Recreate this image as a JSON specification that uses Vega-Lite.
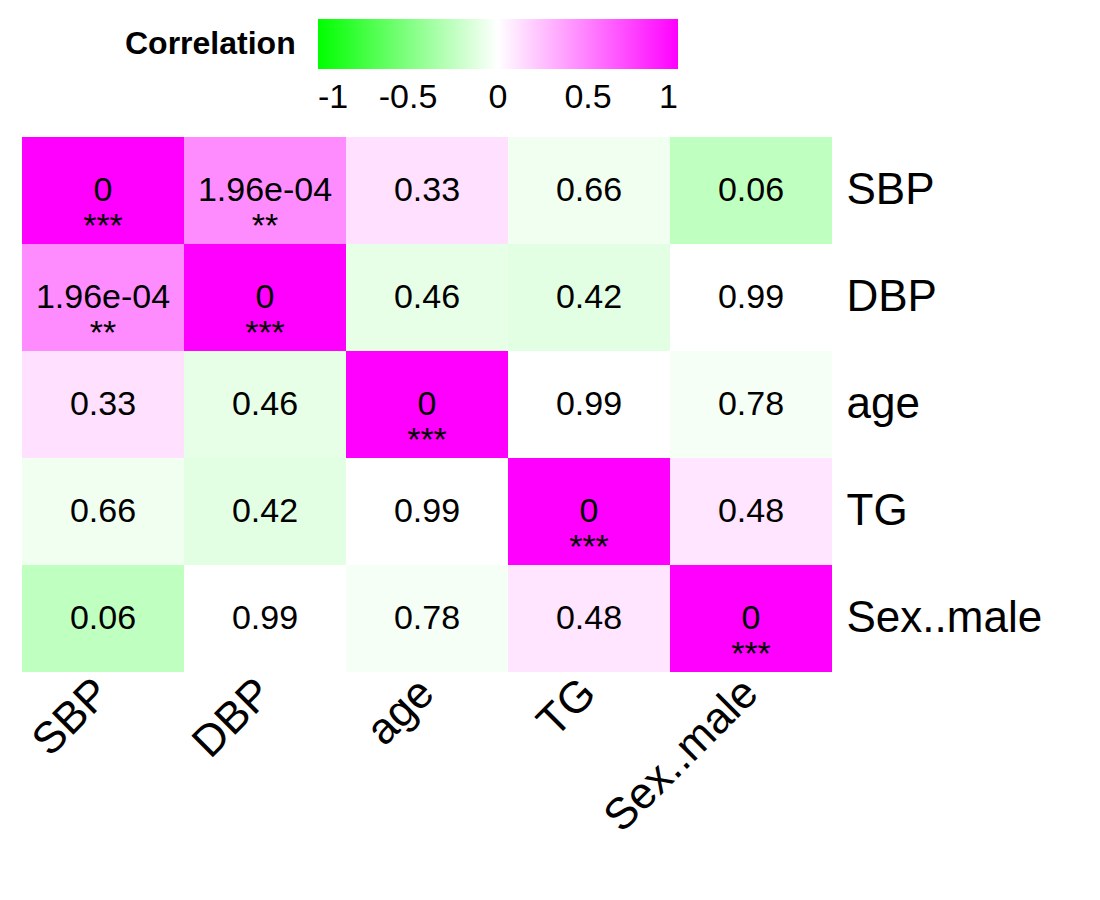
{
  "$schema": "https://vega.github.io/schema/vega-lite/v6.json",
  "width": 810,
  "height": 535,
  "autosize": "none",
  "padding": {"left": 22, "top": 137, "right": 268, "bottom": 228},
  "background": "white",
  "config": {"view": {"stroke": null}, "font": "Liberation Sans"},
  "data": {"values": [
    {"row": "SBP", "col": "SBP", "r": 1, "label": "0\n***"},
    {"row": "SBP", "col": "DBP", "r": 0.45, "label": "1.96e-04\n**"},
    {"row": "SBP", "col": "age", "r": 0.12, "label": "0.33"},
    {"row": "SBP", "col": "TG", "r": -0.06, "label": "0.66"},
    {"row": "SBP", "col": "Sex..male", "r": -0.25, "label": "0.06"},
    {"row": "DBP", "col": "SBP", "r": 0.45, "label": "1.96e-04\n**"},
    {"row": "DBP", "col": "DBP", "r": 1, "label": "0\n***"},
    {"row": "DBP", "col": "age", "r": -0.1, "label": "0.46"},
    {"row": "DBP", "col": "TG", "r": -0.11, "label": "0.42"},
    {"row": "DBP", "col": "Sex..male", "r": 0.0, "label": "0.99"},
    {"row": "age", "col": "SBP", "r": 0.12, "label": "0.33"},
    {"row": "age", "col": "DBP", "r": -0.1, "label": "0.46"},
    {"row": "age", "col": "age", "r": 1, "label": "0\n***"},
    {"row": "age", "col": "TG", "r": 0.0, "label": "0.99"},
    {"row": "age", "col": "Sex..male", "r": -0.04, "label": "0.78"},
    {"row": "TG", "col": "SBP", "r": -0.06, "label": "0.66"},
    {"row": "TG", "col": "DBP", "r": -0.11, "label": "0.42"},
    {"row": "TG", "col": "age", "r": 0.0, "label": "0.99"},
    {"row": "TG", "col": "TG", "r": 1, "label": "0\n***"},
    {"row": "TG", "col": "Sex..male", "r": 0.1, "label": "0.48"},
    {"row": "Sex..male", "col": "SBP", "r": -0.25, "label": "0.06"},
    {"row": "Sex..male", "col": "DBP", "r": 0.0, "label": "0.99"},
    {"row": "Sex..male", "col": "age", "r": -0.04, "label": "0.78"},
    {"row": "Sex..male", "col": "TG", "r": 0.1, "label": "0.48"},
    {"row": "Sex..male", "col": "Sex..male", "r": 1, "label": "0\n***"}
  ]},
  "encoding": {
    "x": {"field": "col", "type": "nominal", "sort": ["SBP", "DBP", "age", "TG", "Sex..male"],
      "scale": {"paddingInner": 0, "paddingOuter": 0},
      "axis": {"title": null, "orient": "bottom", "domain": false, "ticks": false, "labelAngle": -45, "labelAlign": "right", "labelBaseline": "middle", "labelFontSize": 44, "labelColor": "black", "labelPadding": 14, "labelLimit": 400}},
    "y": {"field": "row", "type": "nominal", "sort": ["SBP", "DBP", "age", "TG", "Sex..male"],
      "scale": {"paddingInner": 0, "paddingOuter": 0},
      "axis": {"title": null, "orient": "right", "domain": false, "ticks": false, "labelFontSize": 44, "labelColor": "black", "labelPadding": 14, "labelLimit": 400}}
  },
  "layer": [
    {"mark": {"type": "rect"},
     "encoding": {"color": {"field": "r", "type": "quantitative",
       "scale": {"type": "linear", "domain": [-1, 0, 1], "range": ["#00FF00", "#FFFFFF", "#FF00FF"], "interpolate": "rgb", "zero": false, "nice": false},
       "legend": {"title": "Correlation", "orient": "none", "direction": "horizontal", "legendX": 103, "legendY": -118,
         "titleOrient": "left", "titleFontSize": 32, "titleFontWeight": "bold", "titleColor": "black", "titlePadding": 22,
         "gradientLength": 360, "gradientThickness": 50, "labelFontSize": 34, "labelColor": "black",
         "values": [-1, -0.5, 0, 0.5, 1], "labelExpr": "replace(format(datum.value, '~g'), '−', '-')", "labelOffset": 12}}}},
    {"mark": {"type": "text", "fontSize": 34, "color": "black", "lineBreak": "\n", "lineHeight": 36},
     "encoding": {"text": {"field": "label"}}}
  ]
}
